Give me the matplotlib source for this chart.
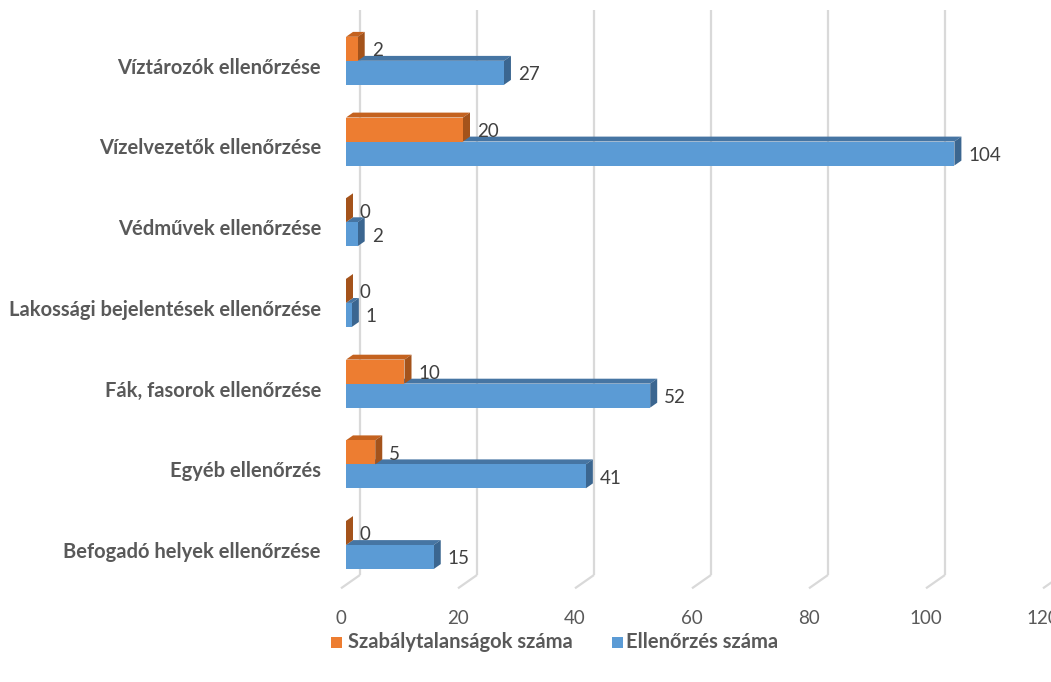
import numpy as np
import matplotlib
matplotlib.use("Agg")
import matplotlib.pyplot as plt
from matplotlib.patches import Polygon, Rectangle

# data, bottom to top
categories = ["Befogadó helyek ellenőrzése", "Egyéb ellenőrzés",
              "Fák, fasorok ellenőrzése", "Lakossági bejelentések ellenőrzése",
              "Védművek ellenőrzése", "Vízelvezetők ellenőrzése",
              "Víztározók ellenőrzése"]
szabalytalan = [0, 5, 10, 0, 0, 20, 2]
ellenorzes = [15, 41, 52, 1, 2, 104, 27]
xticks = [0, 20, 40, 60, 80, 100, 120]
series_names = ["Szabálytalanságok száma", "Ellenőrzés száma"]

plt.rcParams['font.family'] = ['Lato', 'DejaVu Sans']

W, H = 1051, 682
fig = plt.figure(figsize=(W / 100, H / 100), dpi=100)
ax = fig.add_axes([0, 0, 1, 1])
ax.set_axis_off()

# scales (pixels per unit) and placement of the 3d box
SX = 5.85          # px per value unit
SY = 80.7          # px per category
X0 = 341           # image x of value 0 on the floor front
Y0 = 552           # image y of bottom category
ax.set_xlim(-X0 / SX, (W - X0) / SX)
ax.set_ylim((Y0 - H) / SY, Y0 / SY)


def px(dx):
    return dx / SX


def py(dy):
    # dy in image pixels upward -> category units
    return dy / SY


def img_y(y):
    # image y (from top) -> data y
    return (Y0 - y) / SY


# depth setup
SLANT = 0.7
D_WALL = 19
D_FRONT = 5
D_BAR = 7

# gridlines on back wall + floor
grid_c = "#d9d9d9"
for t in xticks:
    xw = t + px(D_WALL)
    ax.plot([xw, xw], [img_y(10), img_y(575)], color=grid_c, lw=1.6, zorder=0,
            solid_capstyle="butt")
    ax.plot([xw, t], [img_y(575), img_y(575 + SLANT * D_WALL)], color=grid_c,
            lw=1.6, zorder=0, solid_capstyle="butt")
    ax.text(t, img_y(618), str(t), ha="center", va="center", fontsize=13.5,
            color="#595959")

y = np.arange(len(categories))
h = py(24)
y_blue = y - py(5)
y_orange = y + py(19)
x_front = px(D_FRONT)
ddx, ddy = px(D_BAR), py(SLANT * D_BAR)


def bar3d(yc, v, front, top, side, z):
    x1 = x_front + v
    yb, yt = yc - h / 2, yc + h / 2
    ax.add_patch(Polygon([(x_front, yt), (x1, yt), (x1 + ddx, yt + ddy),
                          (x_front + ddx, yt + ddy)], closed=True,
                         facecolor=top, edgecolor="none", zorder=z))
    ax.add_patch(Polygon([(x1, yb), (x1, yt), (x1 + ddx, yt + ddy),
                          (x1 + ddx, yb + ddy)], closed=True,
                         facecolor=side, edgecolor="none", zorder=z))
    if v > 0:
        ax.add_patch(Rectangle((x_front, yb), v, h, facecolor=front,
                               edgecolor="none", zorder=z))


for i in range(len(categories)):
    bar3d(y_blue[i], ellenorzes[i], "#5b9bd5", "#4675a3", "#3b6690", 2)
    bar3d(y_orange[i], szabalytalan[i], "#ed7d31", "#c4621f", "#a4531b", 3)
    ax.text(x_front + ellenorzes[i] + px(14), y_blue[i] - py(2),
            str(ellenorzes[i]), ha="left", va="center", fontsize=13.5,
            color="#404040", zorder=5)
    ax.text(x_front + szabalytalan[i] + px(14), y_orange[i] - py(2),
            str(szabalytalan[i]), ha="left", va="center", fontsize=13.5,
            color="#404040", zorder=5)
    ax.text(-px(X0 - 321), y[i], categories[i], ha="right", va="center",
            fontsize=14.5, fontweight="bold", color="#595959")

# legend
leg_y = img_y(642)
ax.add_patch(Rectangle((-px(X0 - 331), leg_y - py(5.5)), px(11), py(11),
                       facecolor="#ed7d31", edgecolor="none"))
ax.text(-px(X0 - 348), leg_y, series_names[0], ha="left", va="center",
        fontsize=14.5, fontweight="bold", color="#595959")
ax.add_patch(Rectangle((px(612 - X0), leg_y - py(5.5)), px(11), py(11),
                       facecolor="#5b9bd5", edgecolor="none"))
ax.text(px(626 - X0), leg_y, series_names[1], ha="left", va="center",
        fontsize=14.5, fontweight="bold", color="#595959")

fig.savefig("out.png", dpi=100)
